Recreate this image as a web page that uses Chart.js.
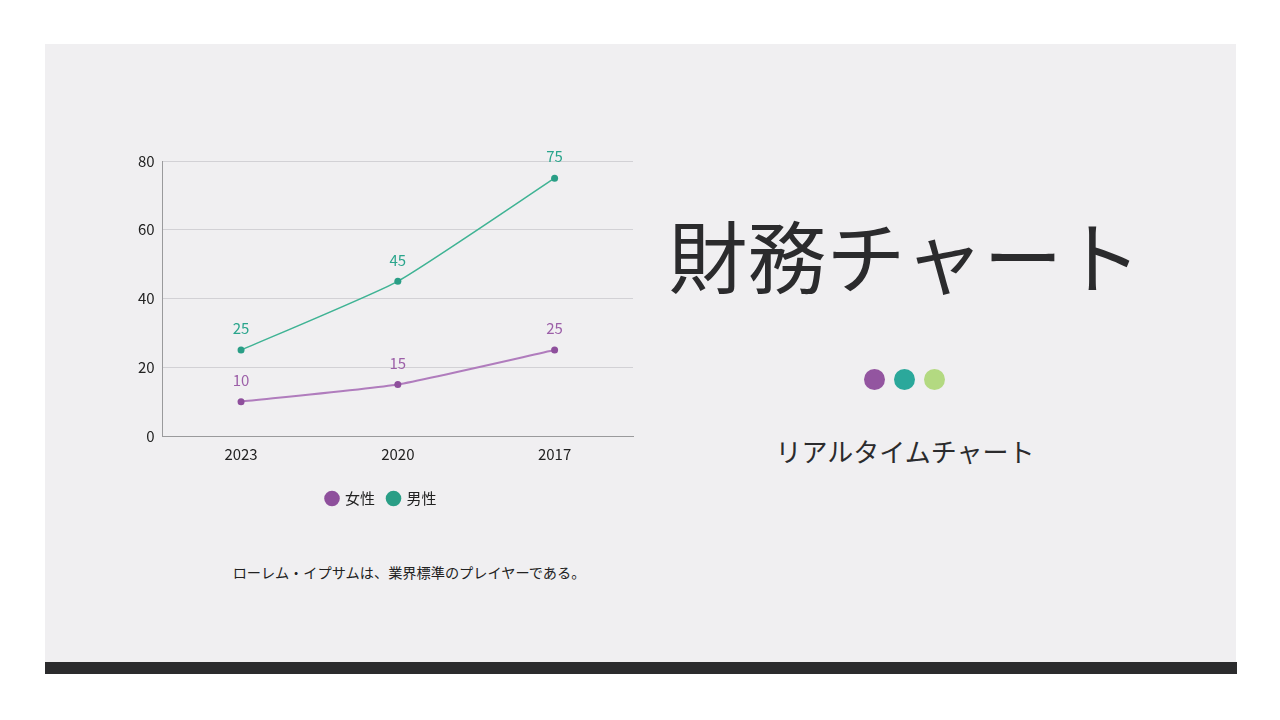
<!DOCTYPE html>
<html>
<head>
<meta charset="utf-8">
<script src="https://cdn.jsdelivr.net/npm/chart.js@4/dist/chart.umd.min.js"></script>
<style>
  body { margin: 0; width: 1280px; height: 720px; background: #ffffff; position: relative; overflow: hidden; font-family: "Noto Sans CJK JP", "Noto Sans", sans-serif; }
  .card { position: absolute; left: 45px; top: 44px; width: 1191px; height: 618px; background: #f0eff1; }
  .bar { position: absolute; left: 45px; top: 662px; width: 1192px; height: 12px; background: #2b2b2d; }
  .wrap { position: absolute; left: 130px; top: 135px; width: 510px; height: 381px; }
  .caption { position: absolute; left: 159px; width: 500px; top: 562px; text-align: center; font-size: 14.2px; color: #222; }
  .title { position: absolute; left: 640px; width: 530px; top: 211px; text-align: center; font-size: 79px; font-weight: 400; color: #2b2b2d; line-height: 1.1; }
  .dots { position: absolute; left: 864px; top: 369px; }
  .dots span { display: inline-block; width: 21px; height: 21px; border-radius: 50%; margin-right: 9px; }
  .sub { position: absolute; left: 705px; width: 400px; top: 432px; text-align: center; font-size: 26px; color: #2b2b2d; }
</style>
</head>
<body>
<div class="card"></div>
<div class="bar"></div>
<div class="wrap"><canvas id="chart"></canvas></div>
<div class="caption">ローレム・イプサムは、業界標準のプレイヤーである。</div>
<div class="title">財務チャート</div>
<div class="dots"><span style="background:#9355a0"></span><span style="background:#2ba89b"></span><span style="background:#b3d981"></span></div>
<div class="sub">リアルタイムチャート</div>
<script>
const years = ['2023', '2020', '2017'];
const female = [10, 15, 25];
const male = [25, 45, 75];
const seriesNames = ['女性', '男性'];

// value labels above each point, in the series colour
const pointLabels = {
  id: 'pointLabels',
  afterDatasetsDraw(chart) {
    const ctx = chart.ctx;
    ctx.save();
    ctx.font = '15px "Noto Sans CJK JP", sans-serif';
    ctx.textAlign = 'center';
    ctx.textBaseline = 'bottom';
    chart.data.datasets.forEach((ds, i) => {
      const meta = chart.getDatasetMeta(i);
      meta.data.forEach((pt, j) => {
        ctx.fillStyle = ds.labelColor;
        ctx.fillText(ds.data[j], pt.x, pt.y - 14);
      });
    });
    ctx.restore();
  }
};

const graph = document.getElementById('chart');
new Chart(graph, {
  type: 'line',
  data: {
    labels: years,
    datasets: [{
      label: seriesNames[0],
      data: female,
      borderColor: '#b07cbd',
      backgroundColor: '#9355a0',
      pointBackgroundColor: '#8e4f9c',
      pointBorderWidth: 0,
      labelColor: '#9c5fa8',
      borderWidth: 2,
      pointRadius: 3.5,
      tension: 0.15
    }, {
      label: seriesNames[1],
      data: male,
      borderColor: '#3fb394',
      backgroundColor: '#2ba89b',
      pointBackgroundColor: '#2a9e86',
      pointBorderWidth: 0,
      labelColor: '#2aa58c',
      borderWidth: 1.5,
      pointRadius: 3.5,
      tension: 0.15
    }]
  },
  options: {
    responsive: true,
    maintainAspectRatio: false,
    animation: false,
    layout: { padding: { top: 26, right: 7, bottom: 0, left: 0 } },
    plugins: {
      legend: {
        position: 'bottom',
        labels: {
          usePointStyle: true,
          pointStyle: 'circle',
          boxWidth: 11,
          boxHeight: 11,
          padding: 13,
          color: '#222',
          font: { size: 15, family: '"Noto Sans CJK JP", sans-serif' }
        }
      },
      tooltip: { enabled: false }
    },
    scales: {
      x: {
        offset: true,
        grid: { display: false },
        border: { display: true, color: '#9a9a9c' },
        ticks: { color: '#222', padding: 1, font: { size: 15, family: '"Noto Sans CJK JP", sans-serif' } },
        afterFit: (scale) => { scale.height += 14; }
      },
      y: {
        min: 0,
        max: 80,
        ticks: { stepSize: 20, color: '#222', padding: 8, font: { size: 15, family: '"Noto Sans CJK JP", sans-serif' } },
        grid: { color: '#d2d1d5', drawTicks: false },
        border: { display: true, color: '#9a9a9c' }
      }
    }
  },
  plugins: [pointLabels]
});
</script>
</body>
</html>
